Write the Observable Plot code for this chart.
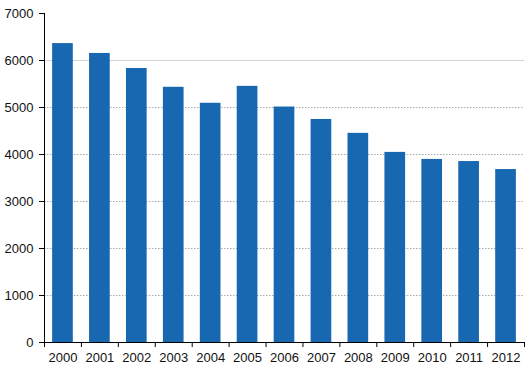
<!DOCTYPE html>
<html>
<head>
<meta charset="utf-8">
<script src="https://cdn.jsdelivr.net/npm/d3@7"></script>
<script src="https://cdn.jsdelivr.net/npm/@observablehq/plot@0.6"></script>
<style>
  html, body { margin: 0; padding: 0; background: #fff; }
  svg { display: block; }
</style>
</head>
<body>
<div id="chart"></div>
<script>
const years = [2000, 2001, 2002, 2003, 2004, 2005, 2006, 2007, 2008, 2009, 2010, 2011, 2012];
const values = [6360, 6150, 5830, 5430, 5090, 5450, 5010, 4745, 4450, 4045, 3895, 3850, 3680];
const yTicks = [0, 1000, 2000, 3000, 4000, 5000, 6000, 7000];
const gridDotted = [1000, 2000, 3000, 4000, 5000];
const gridSolid = [6000];

const data = years.map((y, i) => ({year: y, value: values[i]}));
const boundaries = [...years.map(y => y - 0.5), years[years.length - 1] + 0.5];
const halfBar = 0.28;

const chart = Plot.plot({
  width: 529,
  height: 378,
  marginLeft: 44,
  marginRight: 5,
  marginTop: 13,
  marginBottom: 36,
  style: {fontFamily: "'Liberation Sans', Arial, sans-serif", fontSize: "13px", color: "#111", background: "#fff"},
  x: {type: "linear", domain: [years[0] - 0.5, years[years.length - 1] + 0.5]},
  y: {domain: [0, 7000]},
  marks: [
    Plot.ruleY(gridDotted, {stroke: "#aaa", strokeDasharray: "1.5,1.5", strokeWidth: 1}),
    Plot.ruleY(gridSolid, {stroke: "#d4d4d4", strokeWidth: 1}),
    Plot.rectY(data, {x1: d => d.year - halfBar, x2: d => d.year + halfBar, y1: 0, y2: "value", fill: "#1767b1"}),
    Plot.axisY(yTicks, {tickSize: 5, tickPadding: 6, tickFormat: d => String(d), stroke: "#000", label: null}),
    Plot.axisX(boundaries, {tickSize: 5, tickFormat: () => "", stroke: "#000", label: null}),
    Plot.axisX(years, {tickSize: 0, tickPadding: 10, tickFormat: d => String(d), label: null}),
    Plot.ruleX([years[0] - 0.5], {stroke: "#000"}),
    Plot.ruleY([0], {stroke: "#000"})
  ]
});
document.getElementById("chart").appendChild(chart);
</script>
</body>
</html>
